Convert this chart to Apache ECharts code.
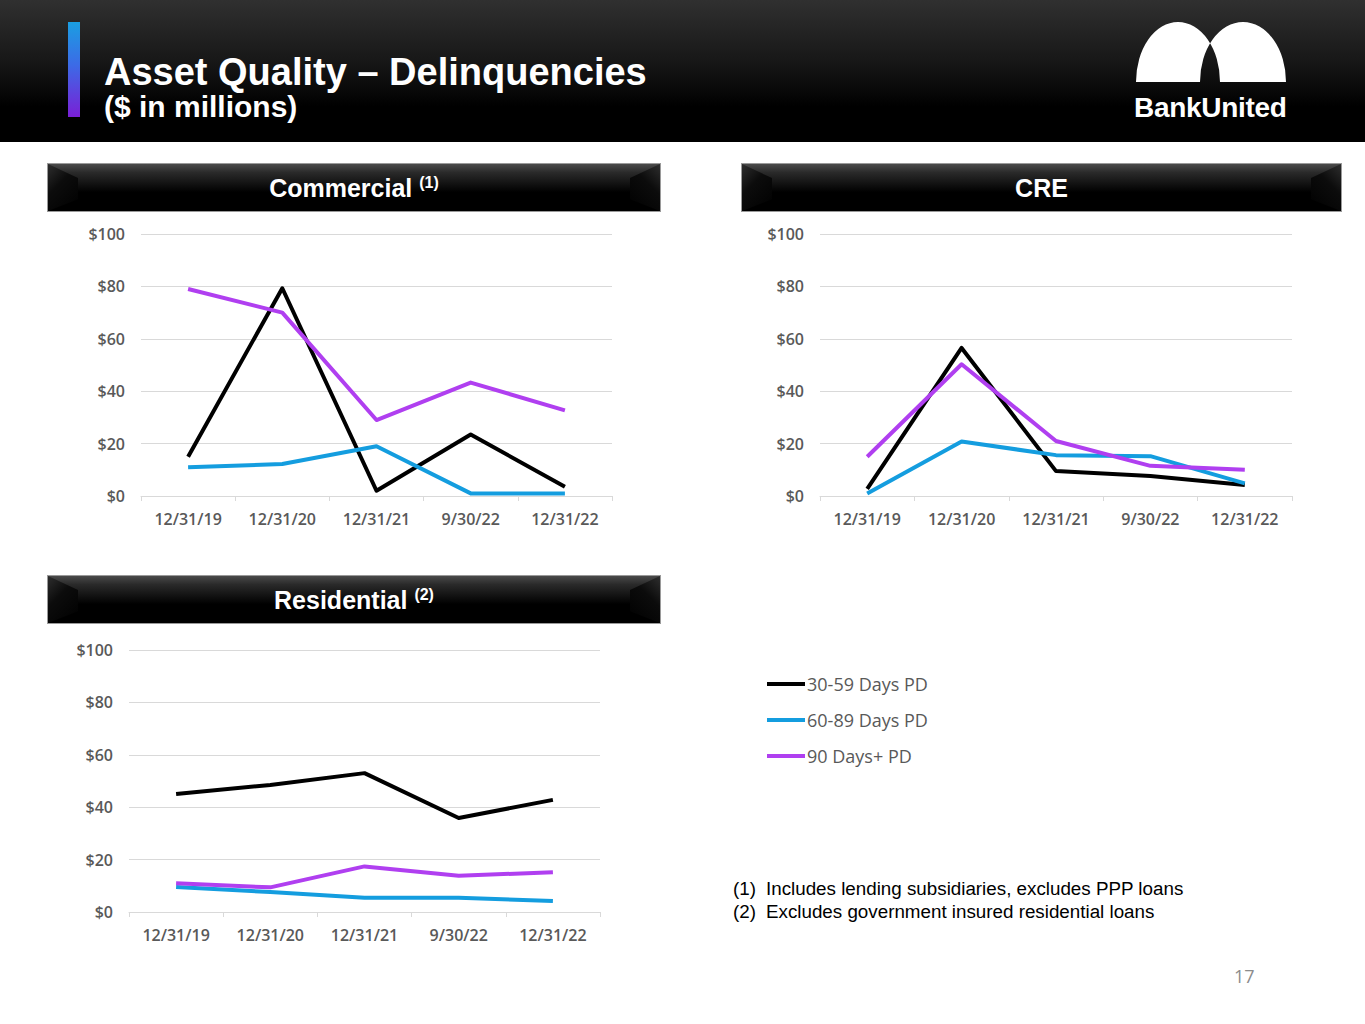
<!DOCTYPE html>
<html>
<head>
<meta charset="utf-8">
<script src="https://cdn.jsdelivr.net/npm/echarts@6/dist/echarts.min.js"></script>
<style>
  html, body { margin:0; padding:0; background:#fff; }
  #page { position:relative; width:1365px; height:1024px; overflow:hidden; font-family:"Liberation Sans", Arial, sans-serif; }
  #header { position:absolute; left:0; top:0; width:1365px; height:142px;
    background:linear-gradient(to bottom, #303030 0%, #161616 45%, #000 75%, #000 100%); }
  #accent { position:absolute; left:68px; top:22px; width:12px; height:95px;
    background:linear-gradient(to bottom, #1a9fe2 0%, #3c6be6 45%, #7a1fd6 100%); }
  #title { position:absolute; left:104px; top:51px; color:#fff; font-weight:bold; font-size:38px; line-height:42px; white-space:nowrap; }
  #subtitle { position:absolute; left:104px; top:91px; color:#fff; font-weight:bold; font-size:30px; line-height:32px; white-space:nowrap; }
  #brand { position:absolute; left:1134px; top:92px; color:#fff; font-weight:bold; font-size:28px; line-height:32px; white-space:nowrap; letter-spacing:-0.3px; }
  #logo { position:absolute; left:1130px; top:18px; }
  .bar { position:absolute; height:49px; border:1px solid #9a9a9a; box-sizing:border-box;
    background:linear-gradient(to bottom, #4a4a4a 0%, #2a2a2a 18%, #141414 40%, #000 60%, #000 100%);
    color:#fff; font-weight:bold; font-size:25px; text-align:center; line-height:49px; overflow:hidden; }
  .bar .bl { position:absolute; left:0; top:0; width:30px; height:100%;
    background:linear-gradient(135deg, #2e2e2e 0%, #0c0c0c 40%, #000 100%);
    clip-path:polygon(0 0, 100% 30%, 100% 75%, 0 100%); }
  .bar .br { position:absolute; right:0; top:0; width:30px; height:100%;
    background:linear-gradient(225deg, #2e2e2e 0%, #0c0c0c 40%, #000 100%);
    clip-path:polygon(100% 0, 0 30%, 0 75%, 100% 100%); }
  .bar span.t { position:relative; }
  .bar sup { font-size:16px; vertical-align:0; position:relative; top:-9px; }
  #notes { position:absolute; left:733px; top:877px; font-size:18.8px; line-height:23px; color:#000; }
  #notes .n { display:inline-block; width:33px; }
  #pageno { position:absolute; left:1234px; top:964px; font-family:"Open Sans", sans-serif; font-size:18px; color:#8c8c8c; }
  #chart { position:absolute; left:0; top:0; width:1365px; height:1024px; }
</style>
</head>
<body>
<div id="page">
  <div id="header"></div>
  <div id="accent"></div>
  <div id="title">Asset Quality – Delinquencies</div>
  <div id="subtitle">($ in millions)</div>
  <svg id="logo" width="160" height="70" viewBox="0 0 160 70">
    <path fill="#fff" fill-rule="evenodd"
      d="M6 64 A42 60 0 0 1 90 64 Z M70 64 A43 60 0 0 1 156 64 Z"/>
  </svg>
  <div id="brand">BankUnited</div>

  <div class="bar" style="left:47px; top:163px; width:614px;"><div class="bl"></div><div class="br"></div><span class="t">Commercial <sup>(1)</sup></span></div>
  <div class="bar" style="left:741px; top:163px; width:601px;"><div class="bl"></div><div class="br"></div><span class="t">CRE</span></div>
  <div class="bar" style="left:47px; top:575px; width:614px;"><div class="bl"></div><div class="br"></div><span class="t">Residential <sup>(2)</sup></span></div>

  <div id="notes">
    <div><span class="n">(1)</span>Includes lending subsidiaries, excludes PPP loans</div>
    <div><span class="n">(2)</span>Excludes government insured residential loans</div>
  </div>
  <div id="pageno">17</div>
  <div id="chart"></div>
</div>
<script>
const categories = ['12/31/19', '12/31/20', '12/31/21', '9/30/22', '12/31/22'];
const seriesNames = ['30-59 Days PD', '60-89 Days PD', '90 Days+ PD'];
const yTicks = [0, 20, 40, 60, 80, 100];

const commercial30 = [15, 79.3, 2, 23.5, 3.5];
const commercial60 = [11, 12.2, 19, 1, 1];
const commercial90 = [79, 70, 29, 43.3, 32.7];

const cre30 = [2.7, 56.5, 9.5, 7.6, 4.2];
const cre60 = [1, 20.8, 15.6, 15.2, 4.8];
const cre90 = [15, 50.3, 21, 11.5, 10];

const resi30 = [45, 48.5, 53, 35.9, 42.8];
const resi60 = [9.5, 7.6, 5.4, 5.4, 4.2];
const resi90 = [11, 9.4, 17.4, 13.8, 15.2];

const colors = ['#000000', '#149ddf', '#b03ff0'];

const panels = [
  { grid: { left: 141, top: 234, width: 471, height: 262 }, data: [commercial30, commercial60, commercial90] },
  { grid: { left: 820, top: 234, width: 472, height: 262 }, data: [cre30, cre60, cre90] },
  { grid: { left: 129, top: 650, width: 471, height: 262 }, data: [resi30, resi60, resi90] }
];

const labelFont = { color: '#595959', fontFamily: 'Open Sans', fontWeight: 600, fontSize: 16 };

const option = {
  animation: false,
  legend: {
    data: seriesNames,
    orient: 'vertical',
    left: 767,
    top: 672,
    padding: 0,
    itemWidth: 38,
    itemHeight: 4,
    itemGap: 12,
    icon: 'rect',
    selectedMode: false,
    textStyle: { color: '#595959', fontFamily: 'Open Sans', fontSize: 18, lineHeight: 24, padding: [0, 0, 0, -3] }
  },
  grid: panels.map(p => Object.assign({ containLabel: false }, p.grid)),
  xAxis: panels.map((p, i) => ({
    type: 'category',
    gridIndex: i,
    data: categories,
    boundaryGap: true,
    axisLine: { lineStyle: { color: '#d9d9d9', width: 1 } },
    axisTick: { show: true, length: 5, lineStyle: { color: '#d9d9d9' } },
    axisLabel: Object.assign({ margin: 15, interval: 0 }, labelFont)
  })),
  yAxis: panels.map((p, i) => ({
    type: 'value',
    gridIndex: i,
    min: yTicks[0],
    max: yTicks[yTicks.length - 1],
    interval: 20,
    axisLine: { show: false },
    axisTick: { show: false },
    splitLine: { lineStyle: { color: '#d9d9d9', width: 1 } },
    axisLabel: Object.assign({ margin: 16, formatter: v => '$' + v }, labelFont)
  })),
  series: []
};

panels.forEach((p, i) => {
  p.data.forEach((vals, k) => {
    option.series.push({
      name: seriesNames[k],
      type: 'line',
      xAxisIndex: i,
      yAxisIndex: i,
      data: vals,
      showSymbol: false,
      symbol: 'none',
      lineStyle: { color: colors[k], width: 4, join: 'round' },
      itemStyle: { color: colors[k] },
      z: 3 + k
    });
  });
});

const chart = echarts.init(document.getElementById('chart'), null, { renderer: 'svg', width: 1365, height: 1024 });
chart.setOption(option);
</script>
</body>
</html>
